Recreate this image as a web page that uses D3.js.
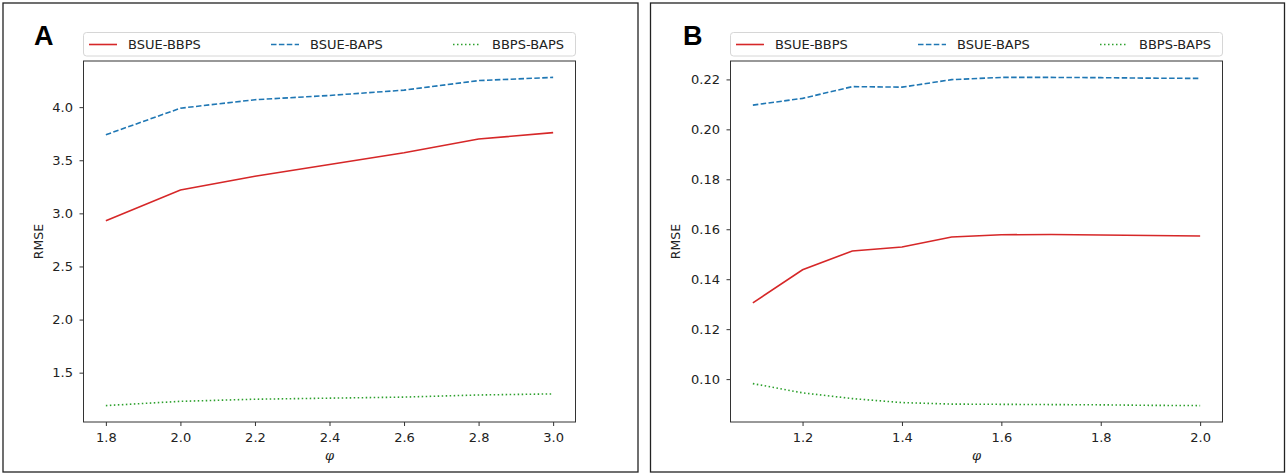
<!DOCTYPE html>
<html><head><meta charset="utf-8">
<script src="https://cdn.jsdelivr.net/npm/d3@7"></script>
<style>
html,body{margin:0;padding:0;background:#fff;}
svg{display:block;}
</style></head>
<body>
<svg id="chart" width="1287" height="475"></svg>
<script>
// ---- Data ----
const seriesNames = ["BSUE-BBPS", "BSUE-BAPS", "BBPS-BAPS"];

const phiA = [1.8, 2.0, 2.2, 2.4, 2.6, 2.8, 3.0];
const bbpsA = [2.93, 3.22, 3.35, 3.46, 3.57, 3.70, 3.76];
const bapsA = [3.74, 3.99, 4.07, 4.11, 4.16, 4.25, 4.28];
const bbpsBapsA = [1.19, 1.23, 1.25, 1.26, 1.27, 1.29, 1.30];
const xTicksA = [1.8, 2.0, 2.2, 2.4, 2.6, 2.8, 3.0];
const yTicksA = [1.5, 2.0, 2.5, 3.0, 3.5, 4.0];

const phiB = [1.1, 1.2, 1.3, 1.4, 1.5, 1.6, 1.7, 1.8, 1.9, 2.0];
const bbpsB = [0.1305, 0.1438, 0.1513, 0.1529, 0.1569, 0.1578, 0.1579, 0.1577, 0.1575, 0.1573];
const bapsB = [0.2097, 0.2124, 0.2171, 0.2169, 0.2199, 0.2208, 0.2208, 0.2207, 0.2205, 0.2204];
const bbpsBapsB = [0.0982, 0.0945, 0.0922, 0.0906, 0.0900, 0.0899, 0.0898, 0.0897, 0.0895, 0.0894];
const xTicksB = [1.2, 1.4, 1.6, 1.8, 2.0];
const yTicksB = [0.10, 0.12, 0.14, 0.16, 0.18, 0.20, 0.22];

// ---- Styles ----
const colors = ["#d62728", "#1f77b4", "#2ca02c"];
const dashes = [null, "5.5,2.4", "1.5,2.5"];
const FS = 13;

const svg = d3.select("#chart");

function panel(opt) {
  const g = svg.append("g");
  // outer frame
  g.append("rect").attr("x", opt.frame[0]).attr("y", opt.frame[1])
    .attr("width", opt.frame[2]).attr("height", opt.frame[3])
    .attr("fill", "none").attr("stroke", "#222").attr("stroke-width", 1.3);
  // panel letter
  g.append("text").attr("x", opt.letterX).attr("y", 45)
    .attr("font-family", "Liberation Sans, Arial, sans-serif")
    .attr("font-weight", "bold").attr("font-size", 27).attr("fill", "#000")
    .text(opt.letter);

  const left = opt.plot[0], top = opt.plot[1], w = opt.plot[2], h = opt.plot[3];
  const xExt = d3.extent(opt.x);
  const allY = opt.series.flat();
  const yExt = d3.extent(allY);
  const xm = (xExt[1] - xExt[0]) * 0.05, ym = (yExt[1] - yExt[0]) * 0.05;
  const x = d3.scaleLinear().domain([xExt[0] - xm, xExt[1] + xm]).range([left, left + w]);
  const y = d3.scaleLinear().domain([yExt[0] - ym, yExt[1] + ym]).range([top + h, top]);

  // axes
  const xAxis = g.append("g").attr("transform", `translate(0,${top + h})`)
    .call(d3.axisBottom(x).tickValues(opt.xTicks).tickFormat(d3.format(".1f")).tickSize(4).tickPadding(6.5));
  const yAxis = g.append("g").attr("transform", `translate(${left},0)`)
    .call(d3.axisLeft(y).tickValues(opt.yTicks).tickFormat(d3.format(opt.yFmt)).tickSize(4).tickPadding(6.5));
  [xAxis, yAxis].forEach(a => {
    a.select(".domain").remove();
    a.selectAll("line").attr("stroke", "#333").attr("stroke-width", 1);
    a.selectAll("text").attr("font-family", "DejaVu Sans, sans-serif")
      .attr("font-size", FS).attr("fill", "#222");
  });

  // lines
  const line = d3.line().x((d, i) => x(opt.x[i])).y(d => y(d));
  opt.series.forEach((s, k) => {
    g.append("path").datum(s).attr("d", line).attr("fill", "none")
      .attr("stroke", colors[k]).attr("stroke-width", 1.6)
      .attr("stroke-dasharray", dashes[k]);
  });

  // plot frame
  g.append("rect").attr("x", left).attr("y", top).attr("width", w).attr("height", h)
    .attr("fill", "none").attr("stroke", "#333").attr("stroke-width", 1);

  // axis labels
  g.append("text").attr("x", left + w / 2).attr("y", top + h + 38)
    .attr("text-anchor", "middle").attr("font-family", "DejaVu Serif, serif")
    .attr("font-style", "italic").attr("font-size", FS).attr("fill", "#222").text("φ");
  g.append("text").attr("transform", `translate(${opt.ylabX},${top + h / 2}) rotate(-90)`)
    .attr("text-anchor", "middle").attr("font-family", "DejaVu Sans, sans-serif")
    .attr("font-size", 12.5).attr("fill", "#222").text("RMSE");

  // legend
  const lg = g.append("g");
  lg.append("rect").attr("x", left).attr("y", 32.5).attr("width", w).attr("height", 23.5)
    .attr("rx", 3).attr("fill", "#fff").attr("stroke", "#d6d6d6").attr("stroke-width", 1);
  seriesNames.forEach((name, k) => {
    const x0 = left + 5.5 + k * (w * 182 / 492);
    lg.append("line").attr("x1", x0).attr("x2", x0 + 28).attr("y1", 44.5).attr("y2", 44.5)
      .attr("stroke", colors[k]).attr("stroke-width", 1.6).attr("stroke-dasharray", dashes[k]);
    lg.append("text").attr("x", x0 + 39).attr("y", 48.8)
      .attr("font-family", "DejaVu Sans, sans-serif").attr("font-size", FS)
      .attr("fill", "#222").text(name);
  });
}

panel({
  frame: [3, 3, 635, 469], letter: "A", letterX: 34,
  plot: [83.5, 61, 492, 361], x: phiA, series: [bbpsA, bapsA, bbpsBapsA],
  xTicks: xTicksA, yTicks: yTicksA, yFmt: ".1f", ylabX: 43
});
panel({
  frame: [650.5, 3, 634, 469], letter: "B", letterX: 683,
  plot: [730.5, 61, 492, 361], x: phiB, series: [bbpsB, bapsB, bbpsBapsB],
  xTicks: xTicksB, yTicks: yTicksB, yFmt: ".2f", ylabX: 680
});
</script>
</body></html>
